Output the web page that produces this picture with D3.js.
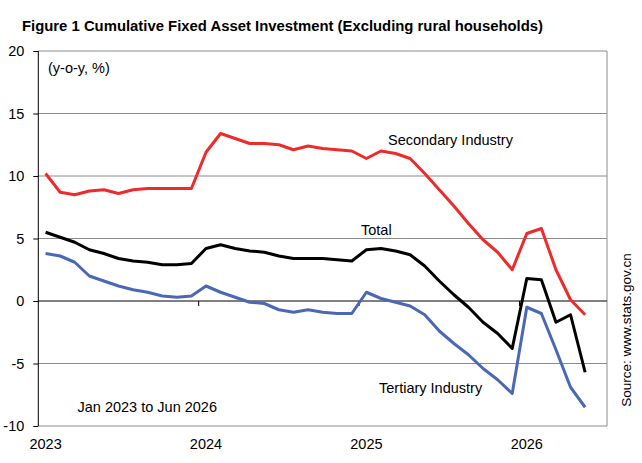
<!DOCTYPE html>
<html>
<head>
<meta charset="utf-8">
<script src="https://cdn.jsdelivr.net/npm/d3@7"></script>
<style>
  body { margin: 0; background: #fff; }
  text { font-family: "Liberation Sans", Arial, sans-serif; fill: #000; }
  .ejes .domain { display: none; }
  .ejes text { font-size: 14.5px; }
</style>
</head>
<body>
<div id="grafica"></div>
<script>
// Periodos (Ene-Feb acumulado, luego mensual)
const periods = [
  "2023-02","2023-03","2023-04","2023-05","2023-06","2023-07","2023-08","2023-09","2023-10","2023-11","2023-12",
  "2024-02","2024-03","2024-04","2024-05","2024-06","2024-07","2024-08","2024-09","2024-10","2024-11","2024-12",
  "2025-02","2025-03","2025-04","2025-05","2025-06","2025-07","2025-08","2025-09","2025-10","2025-11","2025-12",
  "2026-02","2026-03","2026-04","2026-05","2026-06"
]
const yearTicks = ["2023-02","2024-02","2025-02","2026-02"]
const yearLabels = ["2023","2024","2025","2026"]
const yTicks = [-10, -5, 0, 5, 10, 15, 20]

const total = [5.5,5.1,4.7,4.1,3.8,3.4,3.2,3.1,2.9,2.9,3.0,
  4.2,4.5,4.2,4.0,3.9,3.6,3.4,3.4,3.4,3.3,3.2,
  4.1,4.2,4.0,3.7,2.8,1.6,0.5,-0.5,-1.7,-2.6,-3.8,
  1.8,1.7,-1.7,-1.1,-5.7]
const secondary = [10.2,8.7,8.5,8.8,8.9,8.6,8.9,9.0,9.0,9.0,9.0,
  11.9,13.4,13.0,12.6,12.6,12.5,12.1,12.4,12.2,12.1,12.0,
  11.4,12.0,11.8,11.4,10.2,8.9,7.6,6.2,4.9,3.9,2.5,
  5.4,5.8,2.5,0.1,-1.1]
const tertiary = [3.8,3.6,3.1,2.0,1.6,1.2,0.9,0.7,0.4,0.3,0.4,
  1.2,0.7,0.3,-0.1,-0.2,-0.7,-0.9,-0.7,-0.9,-1.0,-1.0,
  0.7,0.2,-0.1,-0.4,-1.1,-2.4,-3.4,-4.3,-5.4,-6.3,-7.4,
  -0.5,-1.0,-3.9,-6.9,-8.5]

const anchoTotal = 642
const altoTotal = 463
const margins = { left: 38.3, top: 51, right: 35, bottom: 37 }
const ancho = anchoTotal - margins.left - margins.right
const alto = altoTotal - margins.top - margins.bottom

const svg = d3.select("#grafica")
  .append("svg")
  .attr("width", anchoTotal)
  .attr("height", altoTotal)

svg.append("text")
  .attr("x", 22)
  .attr("y", 31)
  .attr("font-weight", "bold")
  .attr("font-size", "14.5px")
  .attr("textLength", 521)
  .attr("lengthAdjust", "spacingAndGlyphs")
  .text("Figure 1 Cumulative Fixed Asset Investment (Excluding rural households)")

const g = svg.append("g")
  .attr("transform", `translate(${margins.left}, ${margins.top})`)

// escalas: una categoria vacia al final
const x = d3.scaleBand()
  .domain([...periods, "2026-07"])
  .range([0, ancho])
  .padding(0)

const y = d3.scaleLinear()
  .domain([-10, 20])
  .range([alto, 0])

// rejilla
g.append("g")
  .selectAll("line")
  .data(yTicks.filter(d => d !== 0))
  .join("line")
  .attr("x1", 0)
  .attr("x2", ancho)
  .attr("y1", d => y(d))
  .attr("y2", d => y(d))
  .attr("stroke", "#8c8c8c")
  .attr("stroke-width", 1)

// borde derecho
g.append("line")
  .attr("x1", ancho).attr("x2", ancho)
  .attr("y1", 0).attr("y2", alto)
  .attr("stroke", "#8c8c8c")

// eje Y (guion normal en negativos)
const yAxis = d3.axisLeft(y).tickValues(yTicks).tickSize(5).tickPadding(9)
  .tickFormat(d => String(d))
g.append("g")
  .attr("class", "ejes")
  .call(yAxis)
  .call(s => s.selectAll(".tick line").attr("stroke", "#000"))

g.append("line")
  .attr("x1", 0).attr("x2", 0)
  .attr("y1", 0).attr("y2", alto)
  .attr("stroke", "#000")

// eje X en cero
g.append("line")
  .attr("x1", 0).attr("x2", ancho)
  .attr("y1", y(0)).attr("y2", y(0))
  .attr("stroke", "#000")

const xTicks = d3.axisBottom(x).tickValues(yearTicks.slice(1)).tickSize(5).tickFormat("")
g.append("g")
  .attr("class", "ejes")
  .attr("transform", `translate(${-x.step() / 2}, ${y(0)})`)
  .call(xTicks)
  .call(s => s.selectAll(".tick line").attr("stroke", "#000"))

const xLabels = d3.axisBottom(x).tickValues(yearTicks).tickSize(0).tickPadding(12.5)
  .tickFormat((d, i) => yearLabels[i])
g.append("g")
  .attr("class", "ejes")
  .attr("transform", `translate(0, ${alto})`)
  .call(xLabels)

// lineas
const linea = d3.line()
  .x((d, i) => x(periods[i]) + x.bandwidth() / 2)
  .y(d => y(d))

const series = [
  { valores: secondary, color: "#ee2b2b" },
  { valores: total, color: "#000000" },
  { valores: tertiary, color: "#4a68b5" }
]

g.append("g")
  .selectAll("path")
  .data(series)
  .join("path")
  .attr("d", d => linea(d.valores))
  .attr("fill", "none")
  .attr("stroke", d => d.color)
  .attr("stroke-width", 3)
  .attr("stroke-linejoin", "round")

// textos
const etiquetas = [
  { t: "(y-o-y, %)", x: 48, y: 73 },
  { t: "Secondary Industry", x: 388, y: 145 },
  { t: "Total", x: 361, y: 235 },
  { t: "Tertiary Industry", x: 379, y: 393 },
  { t: "Jan 2023 to Jun 2026", x: 77.5, y: 411.5 }
]
svg.append("g")
  .selectAll("text")
  .data(etiquetas)
  .join("text")
  .attr("x", d => d.x)
  .attr("y", d => d.y)
  .attr("font-size", "14.5px")
  .text(d => d.t)

svg.append("text")
  .attr("transform", "translate(631, 330) rotate(-90)")
  .attr("text-anchor", "middle")
  .attr("font-size", "13.5px")
  .text("Source: www.stats.gov.cn")
</script>
</body>
</html>
